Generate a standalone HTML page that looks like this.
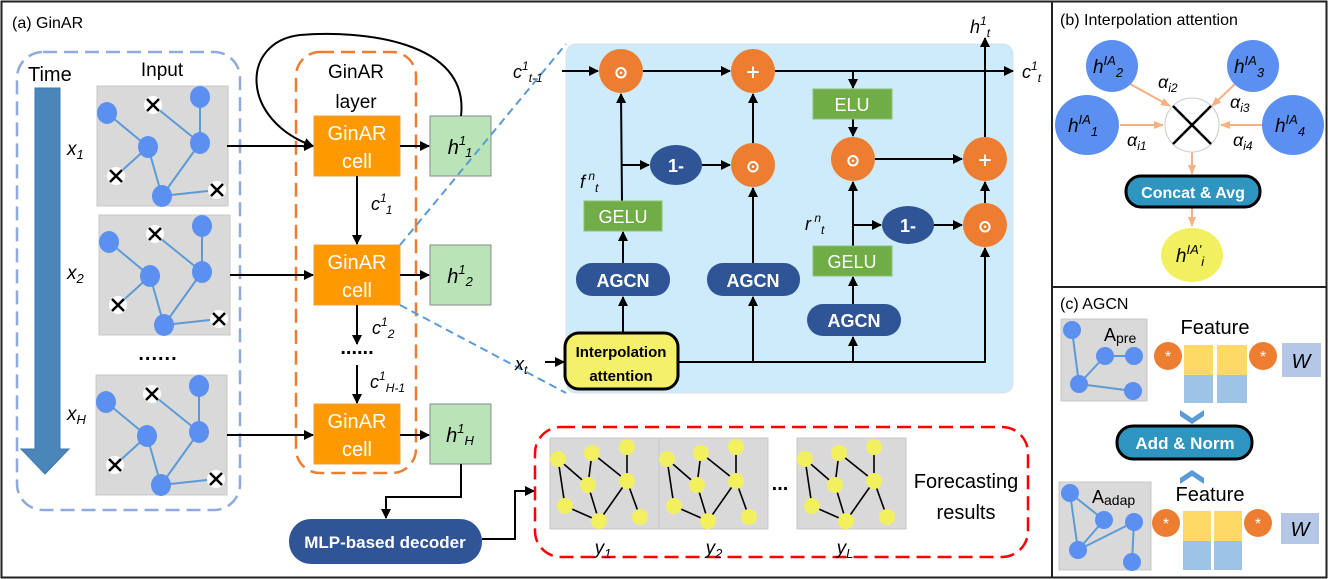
<!DOCTYPE html>
<html><head><meta charset="utf-8"><style>
html,body{margin:0;padding:0;background:#fff}
svg{display:block;font-family:"Liberation Sans",sans-serif}
.it{font-style:italic}
</style></head><body>
<svg width="1328" height="579" viewBox="0 0 1328 579" xmlns="http://www.w3.org/2000/svg">
<defs>
<marker id="ar" markerWidth="10" markerHeight="10" refX="9" refY="5" orient="auto" markerUnits="userSpaceOnUse"><path d="M0,0 L10,5 L0,10 z" fill="#000"/></marker>
<marker id="ap" markerWidth="10" markerHeight="10" refX="9" refY="5" orient="auto" markerUnits="userSpaceOnUse"><path d="M0,1 L10,5 L0,9 z" fill="#F4B183"/></marker>
<g id="ig">
<rect x="0" y="0" width="131" height="120" fill="#D9D9D9" stroke="#C8C8C8"/>
<g stroke="#5B9BD5" stroke-width="2"><line x1="10" y1="27" x2="51" y2="61"/><line x1="56" y1="19" x2="103" y2="57"/><line x1="103" y1="11" x2="103" y2="57"/><line x1="51" y1="61" x2="19" y2="90"/><line x1="51" y1="61" x2="65" y2="110"/><line x1="103" y1="57" x2="65" y2="110"/><line x1="65" y1="110" x2="120" y2="104"/></g>
<g fill="#5B8FF0"><ellipse cx="10" cy="27" rx="10" ry="11"/><ellipse cx="103" cy="11" rx="10" ry="11"/><ellipse cx="51" cy="61" rx="10" ry="11"/><ellipse cx="103" cy="57" rx="10" ry="11"/><ellipse cx="65" cy="110" rx="10" ry="11"/></g>
<g fill="#fff"><circle cx="56" cy="19" r="9"/><circle cx="19" cy="90" r="9"/><circle cx="120" cy="104" r="9"/></g>
<g stroke="#000" stroke-width="2.5"><path d="M50,13 l12,12 M62,13 l-12,12"/><path d="M13,84 l12,12 M25,84 l-12,12"/><path d="M114,98 l12,12 M126,98 l-12,12"/></g>
</g>
<g id="fg">
<rect x="0" y="0" width="109" height="91" fill="#D9D9D9" stroke="#C8C8C8"/>
<g stroke="#000" stroke-width="1.6"><line x1="8" y1="21" x2="38" y2="47"/><line x1="8" y1="21" x2="15" y2="68"/><line x1="42" y1="15" x2="38" y2="47"/><line x1="42" y1="15" x2="77" y2="43"/><line x1="77" y1="9" x2="77" y2="43"/><line x1="38" y1="47" x2="49" y2="83"/><line x1="15" y1="68" x2="49" y2="83"/><line x1="77" y1="43" x2="49" y2="83"/><line x1="77" y1="43" x2="90" y2="79"/></g>
<g fill="#F3F060"><circle cx="8" cy="21" r="8"/><circle cx="42" cy="15" r="8"/><circle cx="77" cy="9" r="8"/><circle cx="38" cy="47" r="8"/><circle cx="77" cy="43" r="8"/><circle cx="15" cy="68" r="8"/><circle cx="49" cy="83" r="8"/><circle cx="90" cy="79" r="8"/></g>
</g>
</defs>
<rect x="1.5" y="1.5" width="1325" height="576" fill="none" stroke="#222" stroke-width="2"/>
<line x1="1052" y1="2" x2="1052" y2="577" stroke="#222" stroke-width="2"/>
<line x1="1052" y1="287" x2="1326" y2="287" stroke="#222" stroke-width="2"/>

<!-- (a) -->
<text x="12" y="28" font-size="16">(a) GinAR</text>
<rect x="17" y="52" width="223" height="458" rx="26" fill="none" stroke="#8FAADC" stroke-width="2.5" stroke-dasharray="14,7"/>
<text x="28" y="81" font-size="20">Time</text>
<path d="M35,88 L60,88 L60,449 L69,449 L45,474 L21,449 L35,449 z" fill="#4A86BA" stroke="#3F78A8"/>
<text x="162" y="76" font-size="19" text-anchor="middle">Input</text>
<use href="#ig" x="97" y="86"/>
<use href="#ig" x="99" y="215"/>
<use href="#ig" x="96" y="375"/>
<text x="67" y="155" font-size="19" class="it">x<tspan font-size="13" dy="4">1</tspan></text>
<text x="67" y="279" font-size="19" class="it">x<tspan font-size="13" dy="4">2</tspan></text>
<text x="67" y="420" font-size="19" class="it">x<tspan font-size="13" dy="4">H</tspan></text>
<text x="158" y="360" font-size="20" font-weight="bold" text-anchor="middle" letter-spacing="1">......</text>

<rect x="296" y="52" width="120" height="421" rx="24" fill="none" stroke="#ED7D31" stroke-width="2.5" stroke-dasharray="14,7"/>
<text x="356" y="78" font-size="19" text-anchor="middle">GinAR</text>
<text x="356" y="108" font-size="19" text-anchor="middle">layer</text>
<g fill="#FF9900" stroke="#F0A040">
<rect x="314" y="116" width="86" height="60"/><rect x="314" y="245" width="86" height="60"/><rect x="314" y="404" width="86" height="60"/></g>
<g fill="#fff" font-size="20" text-anchor="middle">
<text x="357" y="140">GinAR</text><text x="357" y="168">cell</text>
<text x="357" y="269">GinAR</text><text x="357" y="297">cell</text>
<text x="357" y="428">GinAR</text><text x="357" y="456">cell</text></g>
<g fill="#B9E4B8" stroke="#8a8a8a"><rect x="430" y="116" width="61" height="60"/><rect x="430" y="245" width="61" height="60"/><rect x="430" y="404" width="61" height="60"/></g>
<g font-size="20" class="it" text-anchor="middle">
<text x="460" y="154">h<tspan font-size="13" dy="-9">1</tspan><tspan font-size="13" dy="12">1</tspan></text>
<text x="460" y="283">h<tspan font-size="13" dy="-9">1</tspan><tspan font-size="13" dy="12">2</tspan></text>
<text x="460" y="442">h<tspan font-size="13" dy="-9">1</tspan><tspan font-size="13" dy="12">H</tspan></text></g>
<g stroke="#000" stroke-width="2" fill="none" marker-end="url(#ar)">
<path d="M461,116 C470,40 360,30 300,35 C240,42 240,120 313,146"/>
<line x1="227" y1="146" x2="313" y2="146"/><line x1="230" y1="275" x2="313" y2="275"/><line x1="227" y1="435" x2="313" y2="435"/>
<line x1="400" y1="146" x2="429" y2="146"/><line x1="400" y1="275" x2="429" y2="275"/><line x1="400" y1="435" x2="429" y2="435"/>
<line x1="357" y1="176" x2="357" y2="244"/><line x1="357" y1="305" x2="357" y2="344"/><line x1="357" y1="365" x2="357" y2="403"/>
<path d="M461,464 L461,497 L386,497 L386,518"/>
<path d="M482,539 L515,539 L515,491 L534,491"/>
</g>
<g font-size="18" class="it">
<text x="371" y="210">c<tspan font-size="12" dy="-8">1</tspan><tspan font-size="12" dy="12">1</tspan></text>
<text x="372" y="334">c<tspan font-size="12" dy="-8">1</tspan><tspan font-size="12" dy="12">2</tspan></text>
<text x="370" y="388">c<tspan font-size="12" dy="-8">1</tspan><tspan font-size="12" dy="12">H-1</tspan></text></g>
<text x="357" y="354" font-size="20" font-weight="bold" text-anchor="middle">......</text>
<rect x="289" y="519" width="193" height="45" rx="22" fill="#2F5597"/>
<text x="385" y="548" font-size="17" font-weight="bold" fill="#fff" text-anchor="middle">MLP-based decoder</text>

<rect x="535" y="427" width="493" height="130" rx="26" fill="none" stroke="#FF0000" stroke-width="2.5" stroke-dasharray="14,7"/>
<use href="#fg" x="550" y="438"/><use href="#fg" x="659" y="438"/><use href="#fg" x="797" y="438"/>
<text x="780" y="490" font-size="20" font-weight="bold" text-anchor="middle">...</text>
<g font-size="19" class="it" text-anchor="middle">
<text x="603" y="554">y<tspan font-size="13" dy="4">1</tspan></text>
<text x="714" y="554">y<tspan font-size="13" dy="4">2</tspan></text>
<text x="845" y="554">y<tspan font-size="13" dy="4">L</tspan></text></g>
<text x="966" y="488" font-size="20" text-anchor="middle">Forecasting</text>
<text x="966" y="519" font-size="20" text-anchor="middle">results</text>

<!-- dashed connectors -->
<g stroke="#5B9BD5" stroke-width="2" stroke-dasharray="8,5"><line x1="400" y1="245" x2="566" y2="44"/><line x1="400" y1="305" x2="566" y2="393"/></g>

<!-- cell detail -->
<rect x="566" y="44" width="447" height="349" rx="10" fill="#CDEBFB" stroke="#dde"/>
<g stroke="#000" stroke-width="2" fill="none" marker-end="url(#ar)">
<line x1="562" y1="71" x2="598" y2="71"/>
<line x1="643" y1="71" x2="730" y2="71"/>
<line x1="775" y1="71" x2="1013" y2="71"/>
<line x1="853" y1="71" x2="853" y2="88"/>
<line x1="853" y1="119" x2="853" y2="136"/>
<line x1="875" y1="159" x2="962" y2="159"/>
<line x1="985" y1="137" x2="985" y2="38"/>
<line x1="985" y1="203" x2="985" y2="182"/>
<line x1="934" y1="225" x2="962" y2="225"/>
<line x1="853" y1="246" x2="853" y2="182"/>
<line x1="853" y1="225" x2="881" y2="225"/>
<line x1="853" y1="304" x2="853" y2="277"/>
<line x1="545" y1="362" x2="564" y2="362"/>
<path d="M678,362 L985,362 L985,248"/>
<line x1="753" y1="362" x2="753" y2="297"/>
<line x1="853" y1="362" x2="853" y2="337"/>
<line x1="623" y1="333" x2="623" y2="297"/>
<line x1="623" y1="263" x2="623" y2="232"/>
<line x1="622" y1="201" x2="621" y2="94"/>
<line x1="622" y1="165" x2="649" y2="165"/>
<line x1="702" y1="165" x2="730" y2="165"/>
<line x1="753" y1="143" x2="753" y2="94"/>
<line x1="753" y1="263" x2="753" y2="188"/>
</g>
<g fill="#ED7D31"><circle cx="621" cy="71" r="22"/><circle cx="753" cy="71" r="22"/><circle cx="853" cy="159" r="22"/><circle cx="985" cy="159" r="22"/><circle cx="985" cy="225" r="22"/><circle cx="753" cy="165" r="22"/></g>
<g fill="#fff" font-size="22" text-anchor="middle" font-family="DejaVu Sans Mono,monospace">
<text x="621" y="79">ʘ</text><text x="753" y="79">+</text><text x="853" y="167">ʘ</text><text x="985" y="167">+</text><text x="985" y="233">ʘ</text><text x="753" y="173">ʘ</text></g>
<g fill="#2F5597"><ellipse cx="676" cy="165" rx="26" ry="20"/><ellipse cx="908" cy="225" rx="26" ry="19"/>
<rect x="576" y="263" width="94" height="33" rx="16"/><rect x="707" y="263" width="93" height="33" rx="16"/><rect x="807" y="304" width="94" height="32" rx="16"/></g>
<g fill="#fff" font-weight="bold" text-anchor="middle">
<text x="676" y="172" font-size="18">1-</text><text x="908" y="232" font-size="18">1-</text>
<text x="623" y="287" font-size="18">AGCN</text><text x="753" y="287" font-size="18">AGCN</text><text x="854" y="327" font-size="18">AGCN</text></g>
<g fill="#70AD47" stroke="#8BC270"><rect x="813" y="89" width="79" height="30"/><rect x="584" y="201" width="78" height="30"/><rect x="813" y="246" width="79" height="30"/></g>
<g fill="#fff" font-size="18" text-anchor="middle"><text x="852" y="111">ELU</text><text x="623" y="223">GELU</text><text x="852" y="268">GELU</text></g>
<rect x="565" y="333" width="113" height="56" rx="14" fill="#F5F06A" stroke="#000" stroke-width="3"/>
<text x="621" y="357" font-size="15" font-weight="bold" text-anchor="middle">Interpolation</text>
<text x="621" y="381" font-size="15" font-weight="bold" text-anchor="middle">attention</text>
<g font-size="18" class="it">
<text x="513" y="78">c<tspan font-size="12" dy="-8">1</tspan><tspan font-size="12" dy="12">t-1</tspan></text>
<text x="1022" y="78">c<tspan font-size="12" dy="-8">1</tspan><tspan font-size="12" dy="12">t</tspan></text>
<text x="970" y="33">h<tspan font-size="12" dy="-8">1</tspan><tspan font-size="12" dy="12">t</tspan></text>
<text x="515" y="370">x<tspan font-size="12" dy="4">t</tspan></text>
<text x="580" y="188">f<tspan font-size="12" dy="-8"> n</tspan><tspan font-size="12" dy="12">t</tspan></text>
<text x="805" y="230">r<tspan font-size="12" dy="-8"> n</tspan><tspan font-size="12" dy="12">t</tspan></text></g>

<!-- (b) -->
<text x="1060" y="25" font-size="16">(b) Interpolation attention</text>
<g stroke="#F4B183" stroke-width="2" marker-end="url(#ap)">
<line x1="1130" y1="84" x2="1170" y2="106"/><line x1="1235" y1="84" x2="1212" y2="106"/>
<line x1="1120" y1="125" x2="1163" y2="125"/><line x1="1262" y1="125" x2="1221" y2="125"/>
<line x1="1192" y1="152" x2="1192" y2="174"/><line x1="1192" y1="208" x2="1192" y2="226"/></g>
<g fill="#5B8FF0"><circle cx="1112" cy="66" r="26"/><circle cx="1253" cy="66" r="26"/><ellipse cx="1087" cy="125" rx="32" ry="30"/><ellipse cx="1293" cy="125" rx="31" ry="30"/></g>
<circle cx="1192" cy="125" r="27" fill="#fff" stroke="#ccc"/>
<path d="M1173,106 L1211,144 M1211,106 L1173,144" stroke="#000" stroke-width="2.5"/>
<g font-size="19" class="it" text-anchor="middle">
<text x="1108" y="73">h<tspan font-size="13" dy="-8">IA</tspan><tspan font-size="13" dy="12">2</tspan></text>
<text x="1249" y="73">h<tspan font-size="13" dy="-8">IA</tspan><tspan font-size="13" dy="12">3</tspan></text>
<text x="1083" y="132">h<tspan font-size="13" dy="-8">IA</tspan><tspan font-size="13" dy="12">1</tspan></text>
<text x="1290" y="132">h<tspan font-size="13" dy="-8">IA</tspan><tspan font-size="13" dy="12">4</tspan></text></g>
<g font-size="18" class="it">
<text x="1158" y="88">α<tspan font-size="12" dy="4">i2</tspan></text>
<text x="1230" y="108">α<tspan font-size="12" dy="4">i3</tspan></text>
<text x="1127" y="146">α<tspan font-size="12" dy="4">i1</tspan></text>
<text x="1233" y="146">α<tspan font-size="12" dy="4">i4</tspan></text></g>
<rect x="1126" y="176" width="134" height="31" rx="15" fill="#2E95C0" stroke="#000" stroke-width="3"/>
<text x="1193" y="198" font-size="16" font-weight="bold" fill="#fff" text-anchor="middle">Concat &amp; Avg</text>
<ellipse cx="1192" cy="255" rx="31" ry="27" fill="#F3F060"/>
<text x="1190" y="262" font-size="19" class="it" text-anchor="middle">h<tspan font-size="13" dy="-8">IA'</tspan><tspan font-size="13" dy="12">i</tspan></text>

<!-- (c) -->
<text x="1060" y="309" font-size="16">(c) AGCN</text>
<rect x="1061" y="319" width="86" height="82" fill="#D9D9D9" stroke="#C8C8C8"/>
<g stroke="#5B9BD5" stroke-width="2"><line x1="1072" y1="330" x2="1079" y2="384"/><line x1="1079" y1="384" x2="1105" y2="356"/><line x1="1105" y1="356" x2="1134" y2="356"/><line x1="1079" y1="384" x2="1133" y2="391"/></g>
<g fill="#5B8FF0"><circle cx="1072" cy="330" r="9"/><circle cx="1105" cy="356" r="9"/><circle cx="1134" cy="356" r="9"/><circle cx="1079" cy="384" r="9"/><circle cx="1133" cy="391" r="9"/></g>
<text x="1104" y="341" font-size="18">A<tspan font-size="14" dy="2">pre</tspan></text>
<rect x="1059" y="482" width="92" height="88" fill="#D9D9D9" stroke="#C8C8C8"/>
<g stroke="#5B9BD5" stroke-width="2"><line x1="1070" y1="493" x2="1104" y2="520"/><line x1="1070" y1="493" x2="1078" y2="550"/><line x1="1078" y1="550" x2="1104" y2="520"/><line x1="1078" y1="550" x2="1134" y2="522"/><line x1="1134" y1="522" x2="1132" y2="562"/></g>
<g fill="#5B8FF0"><circle cx="1070" cy="493" r="9"/><circle cx="1104" cy="520" r="9"/><circle cx="1134" cy="522" r="9"/><circle cx="1078" cy="550" r="9"/><circle cx="1132" cy="562" r="9"/></g>
<text x="1092" y="503" font-size="18">A<tspan font-size="14" dy="2">adap</tspan></text>
<text x="1215" y="334" font-size="20" text-anchor="middle">Feature</text>
<text x="1210" y="501" font-size="20" text-anchor="middle">Feature</text>
<g fill="#FFD966"><rect x="1184" y="345" width="29" height="30"/><rect x="1217" y="345" width="30" height="30"/><rect x="1183" y="511" width="28" height="30"/><rect x="1214" y="511" width="28" height="30"/></g>
<g fill="#9DC3E6"><rect x="1184" y="375" width="29" height="28"/><rect x="1217" y="375" width="30" height="28"/><rect x="1183" y="541" width="28" height="29"/><rect x="1214" y="541" width="28" height="29"/></g>
<g fill="#ED7D31"><circle cx="1168" cy="356" r="14"/><circle cx="1263" cy="356" r="14"/><circle cx="1166" cy="523" r="14"/><circle cx="1258" cy="523" r="14"/></g>
<g fill="#fff" font-size="16" text-anchor="middle"><text x="1168" y="362">*</text><text x="1263" y="362">*</text><text x="1166" y="529">*</text><text x="1258" y="529">*</text></g>
<g fill="#B4C7E7"><rect x="1282" y="343" width="39" height="34"/><rect x="1281" y="513" width="38" height="31"/></g>
<text x="1301" y="368" font-size="20" class="it" text-anchor="middle">W</text>
<text x="1300" y="536" font-size="20" class="it" text-anchor="middle">W</text>
<path d="M1180,410 L1192,418 L1204,410 L1204,416 L1192,424 L1180,416 z" fill="#5B9BD5"/>
<path d="M1180,478 L1192,470 L1204,478 L1204,484 L1192,476 L1180,484 z" fill="#5B9BD5"/>
<rect x="1117" y="426" width="135" height="33" rx="16" fill="#2E95C0" stroke="#000" stroke-width="3"/>
<text x="1185" y="449" font-size="17" font-weight="bold" fill="#fff" text-anchor="middle">Add &amp; Norm</text>
</svg>
</body></html>
